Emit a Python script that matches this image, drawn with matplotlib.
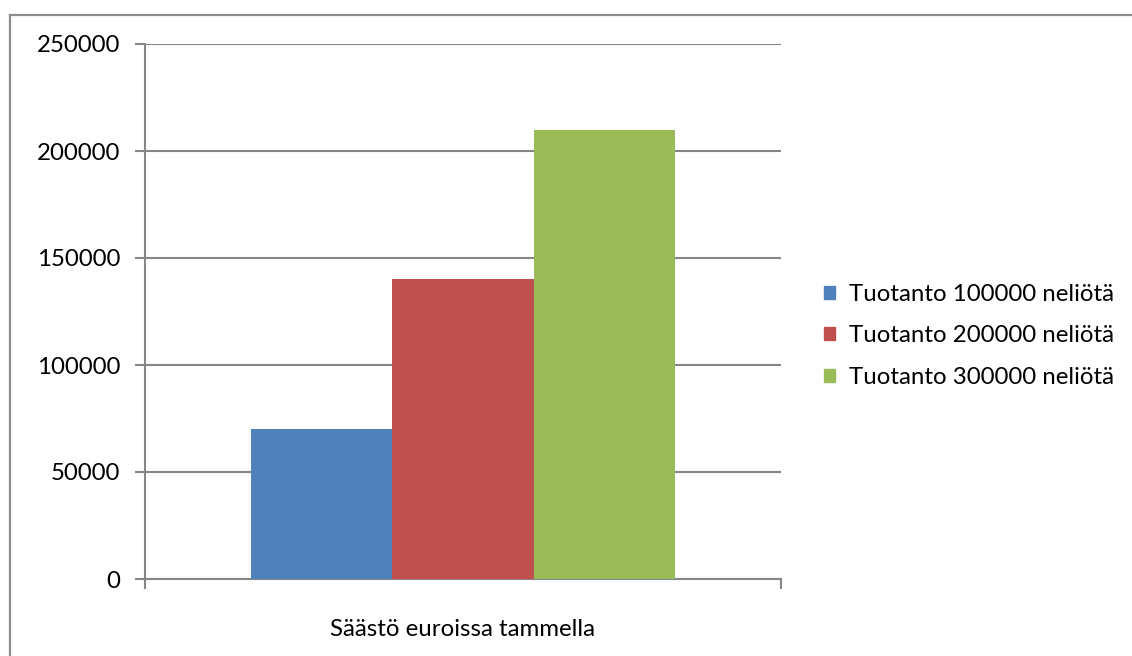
import matplotlib
matplotlib.use("Agg")
import matplotlib.pyplot as plt
from matplotlib.lines import Line2D
from matplotlib.patches import Patch

plt.rcParams["font.family"] = ["Lato", "DejaVu Sans"]

category = "Säästö euroissa tammella"
series = ["Tuotanto 100000 neliötä", "Tuotanto 200000 neliötä", "Tuotanto 300000 neliötä"]
values = [70000, 140000, 210000]
colors = ["#4f81bd", "#c0504d", "#9bbb59"]
yticks = [0, 50000, 100000, 150000, 200000, 250000]

W, H = 1132, 656
fig = plt.figure(figsize=(W / 100, H / 100), dpi=100)

# outer chart frame (only top and left edges are visible in the crop)
frame_col = "#8c8c8c"
fig.add_artist(Line2D([10 / W, 1.0], [1 - 15 / H, 1 - 15 / H], color=frame_col, lw=1.6,
                      transform=fig.transFigure))
fig.add_artist(Line2D([10 / W, 10 / W], [0, 1 - 15 / H], color=frame_col, lw=1.6,
                      transform=fig.transFigure))

ax = fig.add_axes([145 / W, 77 / H, (781 - 145) / W, (579 - 44) / H])

bw = 2 / 9
for i, (name, v, c) in enumerate(zip(series, values, colors)):
    ax.bar(0.5 + (i - 1) * bw, v, width=bw, color=c, label=name, zorder=3)

ax.set_xlim(0, 1)
ax.set_ylim(0, 250000)
ax.set_yticks(yticks)
ax.set_yticklabels([str(t) for t in yticks])
ax.yaxis.grid(True, color="#868686", lw=1.5, zorder=0)
ax.set_axisbelow(True)

ax.set_xticks([0.5])
ax.set_xticklabels([category])
ax.set_xticks([0, 1], minor=True)
ax.tick_params(axis="x", which="major", length=0, pad=29, labelsize=17.3)
ax.tick_params(axis="x", which="minor", length=7, width=1.5, color="#868686")
ax.tick_params(axis="y", length=7, width=1.5, color="#868686", pad=11, labelsize=17.3)

for s in ["top", "right"]:
    ax.spines[s].set_visible(False)
for s in ["left", "bottom"]:
    ax.spines[s].set_color("#868686")
    ax.spines[s].set_linewidth(1.5)

handles = [Patch(color=c) for c in colors]
fig.legend(handles, series, loc="center left", bbox_to_anchor=(824 / W, 1 - 336 / H),
           frameon=False, fontsize=17.3, handlelength=0.45, handleheight=0.45,
           handletextpad=0.58, labelspacing=0.85, borderpad=0, borderaxespad=0)

fig.savefig("out.png", dpi=100)
